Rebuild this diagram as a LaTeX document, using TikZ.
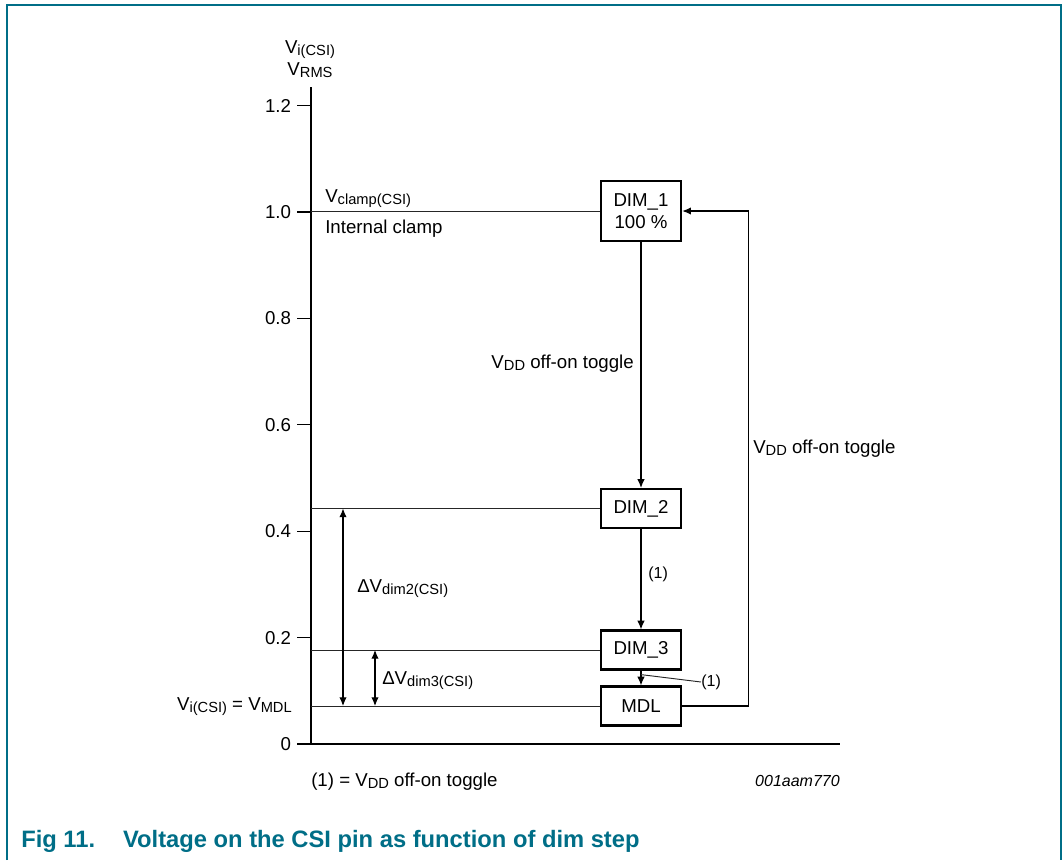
\documentclass[tikz,border=0pt]{standalone}
\usepackage{fontspec}
\setmainfont{Liberation Sans}
\usetikzlibrary{arrows.meta}
\definecolor{nxpteal}{HTML}{006E87}
\newcommand{\lowsub}[1]{\raisebox{-2pt}{\fontsize{11}{12}\selectfont #1}}

\begin{document}
\begin{tikzpicture}[x=0.75pt, y=-0.75pt, >={Latex[length=6.5pt,width=5.5pt]},
  every node/.style={font=\fontsize{14}{16.5}\selectfont, inner sep=0pt},
  axis/.style={line width=1pt},
  level/.style={line width=0.7pt, black!85},
  dimbox/.style={draw, line width=1.9pt, minimum width=60pt, minimum height=29pt, align=center},
  flow/.style={->, line width=0.8pt},
  small/.style={font=\fontsize{12}{14}\selectfont}]
  \useasboundingbox (0,0) rectangle (1063,860);
  % frame
  \draw[nxpteal, line width=1.5pt] (7,860) -- (7,4.5) -- (1060.5,4.5) -- (1060.5,860);
  % axes
  \coordinate (o) at (311,744);
  \draw[axis] (o) -- (311,87);
  \draw[axis] (o) -- (840,744);
  \foreach \v [count=\i] in {0,0.2,0.4,0.6,0.8,1.0,1.2}
    \draw[axis] (297,{744-532*\v}) node[anchor=east, xshift=-4pt] (tick\i) {\v} -- (311,{744-532*\v});
  \node[anchor=base] (ylab1) at (310,53) {V\lowsub{i(CSI)}};
  \node[anchor=base] (ylab2) at (310,75) {V\lowsub{RMS}};
  % dim steps
  \node[dimbox, minimum height=45pt] (dim1) at (641,211) {DIM\_1\\100 \%};
  \node[dimbox] (dim2) at (641,508.5) {DIM\_2};
  \node[dimbox] (dim3) at (641,650) {DIM\_3};
  \node[dimbox] (mdl) at (641,706) {MDL};
  \foreach \n in {dim1,dim2,dim3,mdl} \draw[level] (o |- \n.west) -- (\n.west);
  \node[anchor=base west] (clamp) at (325,202) {V\lowsub{clamp(CSI)}};
  \node[anchor=base west] (intclamp) at (325,233) {Internal clamp};
  % toggles
  \draw[flow] (dim1) -- (dim2);
  \draw[flow] (dim2) -- (dim3);
  \draw[flow] (dim3) -- (mdl);
  \draw[flow] (mdl.east) -- ++(66,0) |- (dim1.east);
  \node[anchor=base east] (tog1) at (634,368) {V\lowsub{DD} off-on toggle};
  \node[anchor=base west] (tog2) at (753,453) {V\lowsub{DD} off-on toggle};
  \node[small, anchor=west] (one1) at (648,574) {(1)};
  \node[small, anchor=west] (one2) at (701,682) {(1)};
  \draw[level] ([yshift=-3pt]dim3.south) -- (one2.west);
  % delta V
  \coordinate (d2) at (343,0);
  \coordinate (d3) at (375,0);
  \draw[<->, line width=0.8pt] (d2 |- dim2.west) -- (d2 |- mdl.west);
  \draw[<->, line width=0.8pt] (d3 |- dim3.west) -- (d3 |- mdl.west);
  \node[anchor=base west] (dv2) at (357,592) {ΔV\lowsub{dim2(CSI)}};
  \node[anchor=base west] (dv3) at (382,684) {ΔV\lowsub{dim3(CSI)}};
  \node[anchor=base east] (vmdl) at (292,710) {V\lowsub{i(CSI)} = V\lowsub{MDL}};
  % notes
  \node[anchor=base west] (note) at (311,786) {(1) = V\lowsub{DD} off-on toggle};
  \node[anchor=base east, font=\fontsize{12}{14}\selectfont\itshape] (figid) at (840,786) {001aam770};
  \node[anchor=base west, text=nxpteal, font=\fontsize{17.8}{20}\selectfont\bfseries] (caption) at (21,847)
    {Fig 11.\hspace{21pt}Voltage on the CSI pin as function of dim step};
\end{tikzpicture}
\end{document}
